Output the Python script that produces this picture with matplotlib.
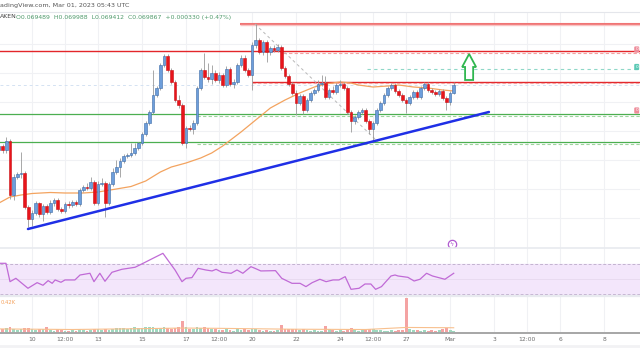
import numpy as np
import matplotlib.pyplot as plt
from matplotlib.patches import Polygon
from matplotlib.lines import Line2D

# ---------------- 4h candles, prices in units of 1e-5 ----------------
open_e5 = [6866, 6874, 6866, 6884, 6776, 6812, 6818, 6820, 6752, 6728,
           6740, 6760, 6738, 6754, 6742, 6760, 6766, 6748, 6744, 6758,
           6756, 6762, 6758, 6786, 6792, 6790, 6802, 6760, 6798, 6800,
           6760, 6798, 6822, 6832, 6844, 6854, 6856, 6860, 6870, 6880,
           6898, 6920, 6942, 6976, 6990, 7036, 7054, 7026, 7002, 6966,
           6956, 6880, 6910, 6908, 6920, 6990, 7026, 7012, 7008, 7020,
           7006, 7016, 6996, 7028, 6998, 7002, 7036, 7050, 7026, 7016,
           7076, 7086, 7062, 7082, 7062, 7070, 7066, 7072, 7030, 7014,
           6998, 6980, 6960, 6974, 6946, 6966, 6980, 6986, 6998, 7000,
           6972, 6986, 6982, 6996, 6998, 6990, 6942, 6924, 6932, 6942,
           6946, 6924, 6908, 6920, 6946, 6960, 6976, 6990, 6996, 6984,
           6976, 6966, 6960, 6972, 6982, 6972, 6990, 6998, 6986, 6982,
           6978, 6984, 6970, 6962, 6980]
high_e5 = [6880, 6878, 6892, 6888, 6818, 6822, 6862, 6824, 6756, 6746,
           6764, 6762, 6758, 6758, 6766, 6770, 6770, 6752, 6762, 6764,
           6766, 6766, 6790, 6796, 6800, 6812, 6806, 6804, 6810, 6804,
           6802, 6830, 6846, 6850, 6858, 6860, 6880, 6880, 6882, 6902,
           6924, 6946, 7026, 6994, 7040, 7058, 7058, 7030, 7006, 6976,
           6960, 6914, 6916, 6926, 6994, 7030, 7060, 7040, 7036, 7026,
           7022, 7020, 7034, 7032, 7008, 7040, 7056, 7056, 7030, 7082,
           7118, 7090, 7086, 7086, 7074, 7076, 7078, 7076, 7034, 7018,
           7002, 6986, 6978, 6978, 6970, 6984, 6990, 7006, 7016, 7014,
           6990, 6994, 7000, 7006, 7002, 6994, 6946, 6936, 6946, 6950,
           6950, 6928, 6924, 6950, 6964, 6980, 6994, 7000, 7000, 6988,
           6980, 6970, 6976, 6986, 6986, 6994, 7002, 7002, 6990, 6986,
           6988, 6988, 6974, 6984, 7002]
low_e5 = [6860, 6860, 6860, 6768, 6766, 6808, 6810, 6748, 6712, 6714,
          6736, 6732, 6724, 6738, 6738, 6754, 6744, 6740, 6740, 6750,
          6752, 6754, 6754, 6782, 6786, 6786, 6756, 6756, 6794, 6732,
          6756, 6794, 6818, 6812, 6840, 6850, 6852, 6856, 6866, 6876,
          6894, 6916, 6938, 6972, 6986, 7032, 7022, 6998, 6962, 6950,
          6876, 6870, 6904, 6898, 6916, 6986, 7008, 7002, 6998, 7002,
          7000, 6992, 6992, 6994, 6990, 6998, 7032, 7022, 7012, 6986,
          7070, 7058, 7056, 7042, 7056, 7062, 7062, 7026, 7010, 6994,
          6976, 6936, 6956, 6938, 6942, 6962, 6976, 6982, 6994, 6968,
          6968, 6978, 6978, 6992, 6986, 6938, 6902, 6918, 6928, 6938,
          6920, 6898, 6884, 6916, 6942, 6956, 6972, 6986, 6980, 6972,
          6962, 6940, 6956, 6968, 6968, 6968, 6986, 6982, 6978, 6974,
          6974, 6966, 6946, 6956, 6978]
close_e5 = [6874, 6866, 6884, 6776, 6812, 6818, 6820, 6752, 6728, 6740,
            6760, 6738, 6754, 6742, 6760, 6766, 6748, 6744, 6758, 6756,
            6762, 6758, 6786, 6792, 6790, 6802, 6760, 6798, 6800, 6760,
            6798, 6822, 6832, 6844, 6854, 6856, 6860, 6870, 6880, 6898,
            6920, 6942, 6976, 6990, 7036, 7054, 7026, 7002, 6966, 6956,
            6880, 6910, 6908, 6920, 6990, 7026, 7012, 7008, 7020, 7006,
            7016, 6996, 7028, 6998, 7002, 7036, 7050, 7026, 7016, 7076,
            7086, 7062, 7082, 7062, 7070, 7066, 7072, 7030, 7014, 6998,
            6980, 6960, 6974, 6946, 6966, 6980, 6986, 6998, 7000, 6972,
            6986, 6982, 6996, 6998, 6990, 6942, 6924, 6932, 6942, 6946,
            6924, 6908, 6920, 6946, 6960, 6976, 6990, 6996, 6984, 6976,
            6966, 6960, 6972, 6982, 6972, 6990, 6998, 6986, 6982, 6978,
            6984, 6970, 6962, 6980, 6996]
volume_k = [1.6, 0.6, 0.9, 1.0, 0.7, 0.5, 0.6, 0.9, 0.8, 0.6,
            0.5, 0.6, 0.7, 1.0, 0.5, 0.4, 0.6, 0.5, 0.4, 0.4,
            0.5, 0.4, 0.6, 0.5, 0.4, 0.5, 0.6, 0.7, 0.5, 0.6,
            0.5, 0.7, 0.8, 0.9, 0.8, 0.7, 0.9, 1.1, 0.8, 0.9,
            1.0, 1.1, 1.0, 0.9, 0.8, 1.0, 0.8, 0.7, 0.9, 1.0,
            2.1, 1.0, 0.6, 0.7, 1.0, 0.9, 1.1, 0.8, 0.7, 0.6,
            0.5, 0.5, 0.6, 0.5, 0.4, 0.6, 0.5, 0.6, 0.5, 0.7,
            0.6, 0.5, 0.4, 0.5, 0.4, 0.4, 0.5, 1.3, 0.7, 0.6,
            0.6, 0.7, 0.5, 0.6, 0.5, 0.4, 0.5, 0.4, 0.4, 1.2,
            0.6, 0.5, 0.4, 0.5, 0.4, 0.7, 0.8, 0.5, 0.4, 0.5,
            0.5, 0.6, 0.6, 0.5, 0.5, 0.4, 0.4, 0.5, 0.4, 0.5,
            0.5, 6.0, 0.7, 0.5, 0.5, 0.4, 0.5, 0.4, 0.5, 0.4,
            0.5, 0.6, 0.9, 0.5, 0.42]

# moving average on price
ma_idx = [0, 3, 6, 9, 14, 18, 23, 27, 32, 36, 40, 44, 47, 51, 55, 58, 61, 66,
          71, 74, 78, 82, 86, 89, 93, 96, 98, 102, 106, 109, 113, 117, 121, 124]
ma_e5 = [6760, 6772, 6776, 6779, 6781, 6780, 6780, 6782, 6788, 6793, 6804,
         6822, 6832, 6840, 6850, 6860, 6874, 6902, 6932, 6950, 6966, 6980,
         6992, 6998, 7002, 7000, 6996, 6992, 6994, 6996, 6992, 6990, 6986, 6984]

# RSI
rsi_idx = [0.3, 1.9, 3.0, 4.6, 7.9, 10.4, 12.0, 13.4, 14.5, 15.3, 16.9, 18.0,
           20.7, 22.1, 24.8, 25.9, 27.5, 28.9, 30.8, 33.5, 37.1, 39.3, 42.0,
           44.7, 48.0, 49.9, 51.0, 52.6, 54.3, 56.4, 58.1, 59.2, 60.8, 63.3,
           64.9, 66.5, 68.7, 69.8, 71.4, 75.4, 77.1, 79.9, 82.1, 83.7, 85.4,
           87.5, 89.2, 91.1, 92.7, 94.4, 96.0, 98.2, 99.8, 101.4, 102.7, 104.3,
           105.5, 106.9, 108.0, 108.8, 111.5, 113.2, 114.8, 116.6, 118.2,
           121.6, 124.0]
rsi_val = [70.9, 70.9, 46.4, 50.9, 37.6, 45.1, 41.6, 47.8, 44.2, 48.7, 45.6,
           48.7, 48.7, 55.3, 57.6, 46.4, 57.6, 46.9, 58.9, 62.9, 65.6, 70.9,
           77.6, 84.2, 62.0, 46.4, 50.9, 51.8, 64.2, 62.0, 60.7, 62.9, 58.9,
           57.6, 62.0, 57.6, 66.4, 64.2, 60.7, 61.1, 50.9, 44.2, 44.2, 39.8,
           45.1, 49.6, 46.4, 48.7, 48.7, 53.1, 36.2, 37.6, 43.3, 43.3, 36.2,
           39.8, 46.4, 54.0, 55.3, 54.0, 52.2, 47.3, 49.6, 57.6, 54.0, 49.6,
           57.6]

vol_ma_idx = [0, 20, 40, 50, 60, 80, 100, 111, 124]
vol_ma_k = [0.7, 0.6, 0.75, 0.85, 0.8, 0.65, 0.6, 0.95, 0.9]

# drawn levels (price e5) and where they start (candle index)
level_top, level_top_from = 7118, 65.7
level_res1 = 7063
level_res1_dash, level_res1_dash_from = 7059, 77.4
level_fib, level_fib_from = 7028, 100.4
level_res2, level_res2_from = 7002, 69.0
level_ref = 6996
level_sup1 = 6937
level_sup2 = 6881
trend_idx = [7.9, 133.6]
trend_e5 = [6708, 6942]
diag_idx = [69.8, 103.4]
diag_e5 = [7118, 6882]
fib_tags = [(7067, '#ee8c9a'), (7032, '#5cc9b5'), (6945, '#ee8c9a')]

tick_pos = [9, 18, 27, 39, 51, 60, 69, 81, 93, 102, 111, 123, 135, 144, 153, 165]
tick_lab = ['10', '12:00', '13', '15', '17', '12:00', '20', '22', '24', '12:00',
            '27', 'Mar', '3', '12:00', '6', '8']
grid_e5 = [7078, 7020, 6962, 6904, 6846, 6788, 6730]

# ---------------------------------------------------------------------
S = 1e-5
o = np.array(open_e5) * S
h = np.array(high_e5) * S
l = np.array(low_e5) * S
c = np.array(close_e5) * S
idx = np.arange(len(c))
up = c >= o

XL = (0.273, 174.8)
W, H = 640.0, 360.0

fig = plt.figure(figsize=(6.4, 3.6), dpi=100)
fig.patch.set_facecolor('white')


def box(top_px, bot_px):
    return [0, 1 - bot_px / H, 1, (bot_px - top_px) / H]


ax = fig.add_axes(box(12, 248))
ax_rsi = fig.add_axes(box(248, 296))
ax_vol = fig.add_axes(box(296, 333))

GRID = '#f0f1f4'
for a in (ax, ax_rsi, ax_vol):
    a.set_xlim(*XL)
    for s in a.spines.values():
        s.set_visible(False)
    a.set_xticks([])
    a.set_yticks([])
    for t in tick_pos:
        a.axvline(t, color=GRID, lw=0.8, zorder=0)

# ---- main price panel
ax.set_ylim(0.06670, 0.07142)
for g in grid_e5:
    ax.axhline(g * S, color=GRID, lw=0.8, zorder=0)

red = '#e3262a'
ax.hlines(level_top * S, level_top_from, XL[1], color='#f07474', lw=1.5, zorder=2)
ax.hlines((level_top - 3) * S, level_top_from, XL[1], color='#f9c4c4', lw=1.0, zorder=2)
ax.axhline(level_res1 * S, color=red, lw=1.0, zorder=2)
ax.hlines(level_res1_dash * S, level_res1_dash_from, XL[1], color='#f3a0a0', lw=0.8,
          linestyles=(0, (3, 2)), zorder=2)
ax.hlines(level_fib * S, level_fib_from, XL[1], color='#8fd8c8', lw=0.8,
          linestyles=(0, (3, 3)), zorder=2)
ax.axhline(level_ref * S, color='#d4e2f2', lw=0.7, ls=(0, (3, 3)), zorder=1)
ax.hlines(level_res2 * S, level_res2_from, XL[1], color=red, lw=1.0, zorder=2)
ax.hlines((level_res2 - 3) * S, level_res2_from, XL[1], color='#f3a0a0', lw=0.8,
          linestyles=(0, (3, 2)), zorder=2)
green = '#4caf50'
for lv in (level_sup1, level_sup2):
    ax.axhline(lv * S, color=green, lw=0.9, zorder=2)
    ax.hlines((lv - 2.5) * S, 54, XL[1], color='#9ed49e', lw=0.8,
              linestyles=(0, (3, 2)), zorder=2)

ax.plot(diag_idx, np.array(diag_e5) * S, color='#b8b8b8', lw=0.7, ls=(0, (3, 3)), zorder=2)
ax.plot(ma_idx, np.array(ma_e5) * S, color='#f3a35f', lw=0.9, zorder=3)

body_lo = np.minimum(o, c)
body_h = np.maximum(np.abs(c - o), 1.4 * S)
ax.vlines(idx, l, h, color='#9a9a9a', lw=0.6, zorder=4)
ax.bar(idx[up], body_h[up], bottom=body_lo[up], width=0.72, color='#6d9edb',
       edgecolor='#3b6aa6', lw=0.4, zorder=5)
ax.bar(idx[~up], body_h[~up], bottom=body_lo[~up], width=0.72, color='#e8141b',
       edgecolor='#c80f15', lw=0.4, zorder=5)

ax.plot(trend_idx, np.array(trend_e5) * S, color='#1f2fe6', lw=1.8, zorder=6,
        solid_capstyle='round')

# green up arrow (outline)
ax_x, tip, base, foot = 128.2, 7058 * S, 7032 * S, 7006 * S
hw, sw = 1.9, 1.1
arrow = Polygon([(ax_x, tip), (ax_x + hw, base), (ax_x + sw, base), (ax_x + sw, foot),
                 (ax_x - sw, foot), (ax_x - sw, base), (ax_x - hw, base)],
                closed=True, facecolor='white', edgecolor='#2fb64f', lw=1.3, zorder=7)
ax.add_patch(arrow)

# lightning icon
ax.plot([123.5], [6677 * S], 'o', ms=6, mfc='white', mec='#b05ad0', mew=0.9, zorder=7)
ax.text(123.5, 6677 * S, 'ϟ', color='#b05ad0', fontsize=4.5, ha='center', va='center', zorder=8)

# level tags at the right edge
for yv, col in fib_tags:
    ax.text(0.997, yv * S, '0', color='white', fontsize=3.2, va='center', ha='right',
            transform=ax.get_yaxis_transform(),
            bbox=dict(boxstyle='round,pad=0.25', fc=col, ec='none'), zorder=8)

# ---- RSI panel
ax_rsi.set_ylim(27.3, 91.3)
ax_rsi.fill_between(XL, 30, 70, color='#f3e6fb', zorder=0)
ax_rsi.axhline(70, color='#c3b3d0', lw=0.7, ls=(0, (3, 2)), zorder=1)
ax_rsi.axhline(30, color='#c3b3d0', lw=0.7, ls=(0, (3, 2)), zorder=1)
ax_rsi.axhline(50, color='#e6d8ef', lw=0.6, zorder=1)
ax_rsi.plot(rsi_idx, rsi_val, color='#c06ad6', lw=0.9, zorder=3)

# ---- volume panel
vol = np.array(volume_k)
ax_vol.set_ylim(0, 6.34)
ax_vol.bar(idx[up], vol[up], width=0.8, color='#9ed8bf', zorder=2)
ax_vol.bar(idx[~up], vol[~up], width=0.8, color='#f4a3a3', zorder=2)
ax_vol.plot(vol_ma_idx, vol_ma_k, color='#f8c08e', lw=0.8, zorder=3)
ax_vol.spines['bottom'].set_visible(True)
ax_vol.spines['bottom'].set_color('#a6a6a6')
ax_vol.spines['bottom'].set_linewidth(1.4)
ax_vol.set_xticks(tick_pos)
ax_vol.set_xticklabels(tick_lab, fontsize=4.3, color='#6b6b6b')
ax_vol.tick_params(axis='x', length=0, pad=3)
ax_vol.text(0.4, 5.2, '0.42K', color='#f5a25d', fontsize=3.8, ha='left', va='center')

# separators and header
for ypx, col, lw in ((11.5, '#e4e6eb', 0.8), (248, '#e8eaef', 1.2),
                     (296, '#e8eaef', 1.6), (346, '#f2f2f4', 2.0)):
    fig.add_artist(Line2D([0, 1], [1 - ypx / H] * 2, color=col, lw=lw))

fig.text(0.0, 1 - 6 / H, 'adingView.com, Mar 01, 2023 05:43 UTC', fontsize=4.6,
         color='#555555', ha='left', va='center')
fig.text(0.0, 1 - 17 / H, 'AKEN', fontsize=4.4, color='#444444', ha='left', va='center')
fig.text(16 / W, 1 - 17 / H, 'O0.069489  H0.069988  L0.069412  C0.069867  +0.000330 (+0.47%)',
         fontsize=4.4, color='#4f9a6b', ha='left', va='center')

fig.savefig('out.png', dpi=100)
